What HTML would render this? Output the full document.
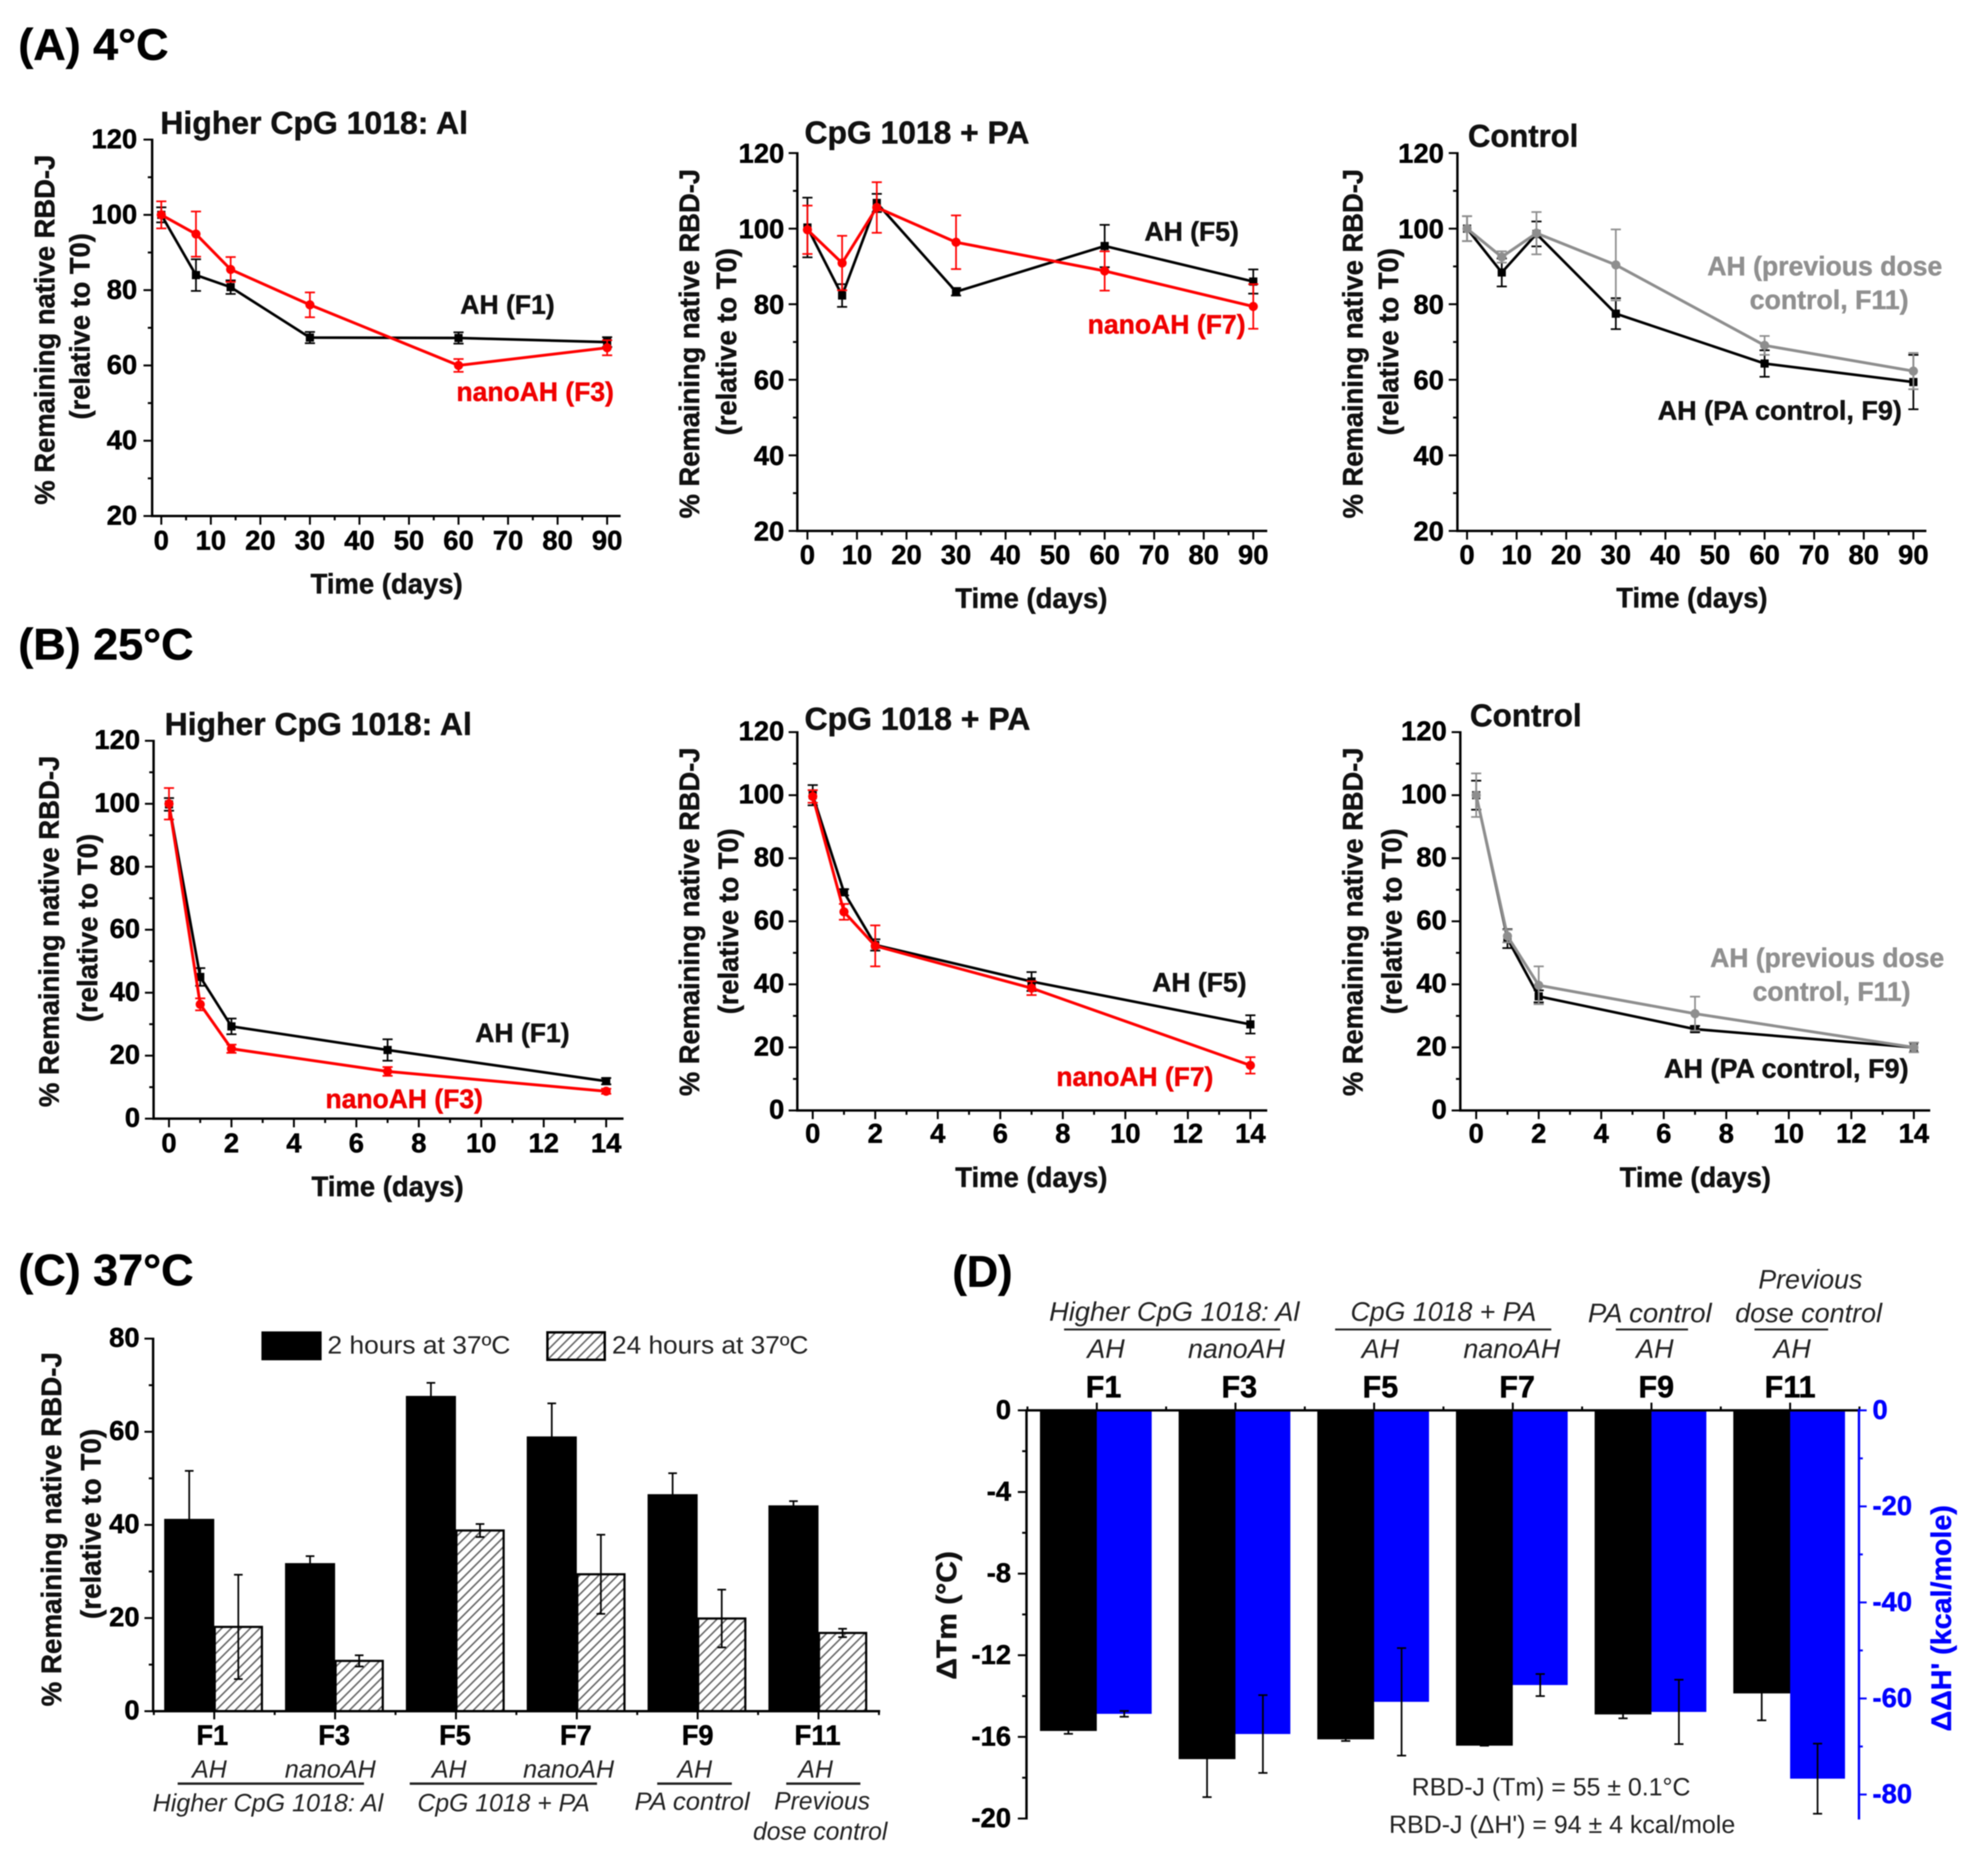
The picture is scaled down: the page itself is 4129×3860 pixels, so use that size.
<!DOCTYPE html>
<html lang="en">
<head>
<meta charset="utf-8">
<title>RBD-J stability charts</title>
<style>
html,body{margin:0;padding:0;background:#fff;}
svg{display:block;font-family:"Liberation Sans",Arial,sans-serif;filter:blur(1px);}
.head{font-size:92px;font-weight:700;fill:#000;}
.title{font-size:66px;font-weight:700;fill:#111;}
.axt{font-size:58px;font-weight:700;fill:#111;text-anchor:middle;}
.ser{font-size:56px;font-weight:700;}
.tick{font-size:57px;font-weight:700;fill:#000;}
.it{font-size:52px;font-style:italic;fill:#222;}
.ft{font-size:58px;font-weight:700;fill:#000;text-anchor:middle;}
#d .it{font-size:56px;}
#d .ft{font-size:64px;}
.reg{font-size:52px;fill:#222;}
</style>
</head>
<body>
<svg id="figure" xmlns="http://www.w3.org/2000/svg" width="4129" height="3860" viewBox="0 0 4129 3860">
<defs>
<pattern id="hatch" patternUnits="userSpaceOnUse" width="14" height="14" patternTransform="rotate(45)">
<rect width="14" height="14" fill="#ffffff"/>
<rect width="3.2" height="14" fill="#666666"/>
</pattern>
</defs>
<rect width="4129" height="3860" fill="#ffffff"/>

<text class="head" x="38" y="124" textLength="312">(A) 4°C</text>
<text class="head" x="38" y="1370" textLength="364">(B) 25°C</text>
<text class="head" x="38" y="2670" textLength="364">(C) 37°C</text>
<text class="head" x="1978" y="2673" textLength="125">(D)</text>

<g id="a1">
<text class="title" x="333" y="278" textLength="639">Higher CpG 1018: Al</text>
<text class="axt" transform="translate(113,685) rotate(-90)" textLength="727">% Remaining native RBD-J</text>
<text class="axt" transform="translate(186,678) rotate(-90)" textLength="387">(relative to T0)</text>
<text class="axt" x="803" y="1233" textLength="316">Time (days)</text>
<text class="ser" x="956" y="652" fill="#111" textLength="196">AH (F1)</text>
<text class="ser" x="948" y="833" fill="#f00000" textLength="327">nanoAH (F3)</text>
</g>

<g id="a2">
<text class="title" x="1671" y="298" textLength="467">CpG 1018 + PA</text>
<text class="axt" transform="translate(1452,714) rotate(-90)" textLength="726">% Remaining native RBD-J</text>
<text class="axt" transform="translate(1529,710) rotate(-90)" textLength="389">(relative to T0)</text>
<text class="axt" x="2142" y="1263" textLength="316">Time (days)</text>
<text class="ser" x="2377" y="500" fill="#111" textLength="196">AH (F5)</text>
<text class="ser" x="2259" y="693" fill="#f00000" textLength="328">nanoAH (F7)</text>
</g>

<g id="a3">
<text class="title" x="3049" y="305" textLength="229">Control</text>
<text class="axt" transform="translate(2830,714) rotate(-90)" textLength="726">% Remaining native RBD-J</text>
<text class="axt" transform="translate(2904,710) rotate(-90)" textLength="389">(relative to T0)</text>
<text class="axt" x="3514" y="1262" textLength="314">Time (days)</text>
<text class="ser" x="3546" y="572" fill="#909090" textLength="488">AH (previous dose</text>
<text class="ser" x="3634" y="642" fill="#909090" textLength="330">control, F11)</text>
<text class="ser" x="3443" y="872" fill="#111" textLength="507">AH (PA control, F9)</text>
</g>

<g id="b1">
<text class="title" x="342" y="1527" textLength="638">Higher CpG 1018: Al</text>
<text class="axt" transform="translate(122,1935) rotate(-90)" textLength="730">% Remaining native RBD-J</text>
<text class="axt" transform="translate(202,1928) rotate(-90)" textLength="391">(relative to T0)</text>
<text class="axt" x="805" y="2485" textLength="316">Time (days)</text>
<text class="ser" x="987" y="2165" fill="#111" textLength="196">AH (F1)</text>
<text class="ser" x="676" y="2302" fill="#f00000" textLength="327">nanoAH (F3)</text>
</g>

<g id="b2">
<text class="title" x="1671" y="1516" textLength="469">CpG 1018 + PA</text>
<text class="axt" transform="translate(1452,1915) rotate(-90)" textLength="724">% Remaining native RBD-J</text>
<text class="axt" transform="translate(1533,1914) rotate(-90)" textLength="386">(relative to T0)</text>
<text class="axt" x="2142" y="2466" textLength="316">Time (days)</text>
<text class="ser" x="2393" y="2060" fill="#111" textLength="196">AH (F5)</text>
<text class="ser" x="2194" y="2256" fill="#f00000" textLength="326">nanoAH (F7)</text>
</g>

<g id="b3">
<text class="title" x="3053" y="1509" textLength="232">Control</text>
<text class="axt" transform="translate(2830,1915) rotate(-90)" textLength="724">% Remaining native RBD-J</text>
<text class="axt" transform="translate(2911,1914) rotate(-90)" textLength="386">(relative to T0)</text>
<text class="axt" x="3521" y="2466" textLength="314">Time (days)</text>
<text class="ser" x="3552" y="2009" fill="#909090" textLength="486">AH (previous dose</text>
<text class="ser" x="3640" y="2079" fill="#909090" textLength="328">control, F11)</text>
<text class="ser" x="3456" y="2239" fill="#111" textLength="508">AH (PA control, F9)</text>
</g>

<g id="c">
<text class="axt" transform="translate(127,3177) rotate(-90)" textLength="736">% Remaining native RBD-J</text>
<text class="axt" transform="translate(209,3166) rotate(-90)" textLength="395">(relative to T0)</text>
<rect x="543" y="2766" width="125" height="60" fill="#000"/>
<text class="reg" x="680" y="2812" textLength="380">2 hours at 37ºC</text>
<rect x="1137" y="2768" width="119" height="57" fill="url(#hatch)" stroke="#000" stroke-width="5"/>
<text class="reg" x="1271" y="2812" textLength="408">24 hours at 37ºC</text>

<text class="ft" x="441" y="3625" textLength="66">F1</text>
<text class="ft" x="694" y="3625" textLength="66">F3</text>
<text class="ft" x="945" y="3625" textLength="66">F5</text>
<text class="ft" x="1196" y="3625" textLength="66">F7</text>
<text class="ft" x="1449" y="3625" textLength="66">F9</text>
<text class="ft" x="1698" y="3625" textLength="96">F11</text>
<g text-anchor="middle">
<text class="it" x="435" y="3693">AH</text>
<text class="it" x="686" y="3693" textLength="189">nanoAH</text>
<text class="it" x="933" y="3693">AH</text>
<text class="it" x="1181" y="3693" textLength="189">nanoAH</text>
<text class="it" x="1443" y="3693">AH</text>
<text class="it" x="1694" y="3693">AH</text>
</g>
<rect x="369" y="3703" width="387" height="5" fill="#222"/>
<rect x="851" y="3703" width="389" height="5" fill="#222"/>
<rect x="1365" y="3703" width="155" height="5" fill="#222"/>
<rect x="1633" y="3703" width="154" height="5" fill="#222"/>
<text class="it" x="317" y="3763" textLength="479">Higher CpG 1018: Al</text>
<text class="it" x="867" y="3763" textLength="358">CpG 1018 + PA</text>
<text class="it" x="1318" y="3760" textLength="239">PA control</text>
<text class="it" x="1608" y="3759" textLength="199">Previous</text>
<text class="it" x="1564" y="3822" textLength="279">dose control</text>
</g>

<g id="d">
<text class="it" x="3652" y="2677" textLength="216">Previous</text>
<text class="it" x="3604" y="2747" textLength="305">dose control</text>
<text class="it" x="2179" y="2744" textLength="520">Higher CpG 1018: Al</text>
<text class="it" x="2805" y="2744" textLength="386">CpG 1018 + PA</text>
<text class="it" x="3298" y="2747" textLength="257">PA control</text>
<rect x="2210" y="2760" width="449" height="4" fill="#222"/>
<rect x="2773" y="2760" width="449" height="4" fill="#222"/>
<rect x="3356" y="2760" width="150" height="4" fill="#222"/>
<rect x="3644" y="2760" width="153" height="4" fill="#222"/>
<g text-anchor="middle">
<text class="it" x="2297" y="2821">AH</text>
<text class="it" x="2568" y="2821" textLength="201">nanoAH</text>
<text class="it" x="2867" y="2821">AH</text>
<text class="it" x="3140" y="2821" textLength="201">nanoAH</text>
<text class="it" x="3437" y="2821">AH</text>
<text class="it" x="3722" y="2821">AH</text>
</g>
<text class="ft" x="2292" y="2903" textLength="74">F1</text>
<text class="ft" x="2574" y="2903" textLength="74">F3</text>
<text class="ft" x="2867" y="2903" textLength="74">F5</text>
<text class="ft" x="3151" y="2903" textLength="74">F7</text>
<text class="ft" x="3440" y="2903" textLength="74">F9</text>
<text class="ft" x="3718" y="2903" textLength="106">F11</text>
<text class="axt" transform="translate(1986,3356) rotate(-90)" textLength="267">ΔTm (°C)</text>
<text class="axt" style="fill:#0000ff" transform="translate(4052,3362) rotate(-90)" textLength="470">ΔΔH' (kcal/mole)</text>
<text class="reg" x="2932" y="3730" textLength="579">RBD-J (Tm) = 55 ± 0.1°C</text>
<text class="reg" x="2885" y="3808" textLength="719">RBD-J (ΔH') = 94 ± 4 kcal/mole</text>
</g>

<script>
// ---------- Panel A (4 °C) data ----------
const daysA = [0, 7, 14, 30, 60, 90];
const xTicksA = [0, 10, 20, 30, 40, 50, 60, 70, 80, 90];
const yTicksA = [20, 40, 60, 80, 100, 120];
const a1AhValues = [100, 84, 80.8, 67.4, 67.3, 66.2];
const a1AhErrors = [2, 4.2, 1.8, 1.5, 1.5, 1.3];
const a1NanoValues = [100, 94.9, 85.5, 76.1, 60, 64.7];
const a1NanoErrors = [3.6, 6, 3.3, 3.3, 1.7, 2];
const a2AhValues = [100.3, 82.3, 106.8, 83.3, 95.4, 86];
const a2AhErrors = [7.9, 3, 2.4, 1, 5.6, 3.2];
const a2NanoValues = [99.7, 90.9, 105.6, 96.4, 88.8, 79.4];
const a2NanoErrors = [6.4, 7.2, 6.7, 7.1, 5.2, 5.9];
const a3PaValues = [100, 88.4, 98.6, 77.5, 64.3, 59.4];
const a3PaErrors = [3.3, 3.7, 3.3, 4.1, 3.5, 7.2];
const a3PrevValues = [100, 92.5, 98.8, 90.4, 69.1, 62.3];
const a3PrevErrors = [3.3, 1.5, 5.6, 9.4, 2.5, 4.8];

// ---------- Panel B (25 °C) data ----------
const daysB = [0, 1, 2, 7, 14];
const xTicksB = [0, 2, 4, 6, 8, 10, 12, 14];
const yTicksB = [0, 20, 40, 60, 80, 100, 120];
const b1AhValues = [99.8, 45, 29.3, 21.8, 11.9];
const b1AhErrors = [2, 2.8, 2.5, 3.4, 1];
const b1NanoValues = [100, 36.3, 22.2, 15, 8.7];
const b1NanoErrors = [5, 1.9, 1.3, 1.4, 0.8];
const b2AhValues = [100, 69.2, 52.5, 40.9, 27.3];
const b2AhErrors = [3.2, 1, 1.8, 3, 2.9];
const b2NanoValues = [99.6, 63, 52.2, 38.8, 14.3];
const b2NanoErrors = [2, 2.5, 6.5, 2.2, 2.6];
const b3PaValues = [100, 54.5, 36.2, 25.8, 20];
const b3PaErrors = [4.6, 3, 1.9, 1, 1.5];
const b3PrevValues = [100, 55.3, 39.7, 30.7, 20];
const b3PrevErrors = [6.9, 2, 6, 5.4, 1.5];

// ---------- Panel C (37 °C) data ----------
const yTicksC = [0, 20, 40, 60, 80];
const c2hValues = [41.3, 31.8, 67.7, 59, 46.6, 44.2];
const c2hErrors = [10.3, 1.5, 2.8, 7.1, 4.5, 0.9];
const c24hValues = [18.1, 10.8, 38.8, 29.4, 19.9, 16.8];
const c24hErrors = [11.2, 1.2, 1.4, 8.5, 6.2, 0.9];

// ---------- Panel D data ----------
const yTicksDLeft = [0, -4, -8, -12, -16, -20];
const yTicksDRight = [0, -20, -40, -60, -80];
const dTmValues = [-15.71, -17.09, -16.12, -16.43, -14.9, -13.87];
const dTmErrors = [0.14, 1.86, 0.08, 0, 0.19, 1.32];
const dEnthalpyValues = [-63.2, -67.4, -60.7, -57.2, -62.8, -76.7];
const dEnthalpyErrors = [0.6, 8.1, 11.2, 2.3, 6.7, 7.3];

const NS = 'http://www.w3.org/2000/svg';
const BLACK = '#000000', RED = '#ff0000', GRAY = '#8e8e8e', BLUE = '#0000ff';

function add(parent, tag, name, attrs, text) {
  const el = document.createElementNS(NS, tag);
  
  
  for (const k in attrs) el.setAttribute(k, attrs[k]);
  if (text !== undefined) el.textContent = text;
  parent.appendChild(el);
  return el;
}
function linear(d0, d1, r0, r1) {
  return function (v) { return r0 + (v - d0) / (d1 - d0) * (r1 - r0); };
}
function line(parent, name, x1, y1, x2, y2, color, w) {
  return add(parent, 'line', name, { x1: x1, y1: y1, x2: x2, y2: y2, stroke: color, 'stroke-width': w });
}
function errorBar(parent, x, yLo, yHi, color, cap, w) {
  const g = add(parent, 'g', 'error-bar', {});
  line(g, 'error-stem', x, yLo, x, yHi, color, w);
  line(g, 'error-cap', x - cap / 2, yLo, x + cap / 2, yLo, color, w);
  line(g, 'error-cap', x - cap / 2, yHi, x + cap / 2, yHi, color, w);
}
function tickLabel(parent, name, x, y, anchor, text, color) {
  const t = add(parent, 'text', name, { x: x, y: y, 'text-anchor': anchor, class: 'tick' }, text);
  if (color) t.style.fill = color;
  return t;
}

function drawLinePanel(id, g, xTicks, xMinor, yTicks, yMinor, series) {
  const root = document.getElementById(id);
  const sx = linear(xTicks[0], xTicks[xTicks.length - 1], g.x0, g.x1);
  const sy = linear(yTicks[0], yTicks[yTicks.length - 1], g.yBottom, g.yTop);
  const axes = add(root, 'g', 'axes', {});
  line(axes, 'y-axis-line', g.axisX, g.yTop - 2, g.axisX, g.yBottom + 2.5, '#000', 5);
  line(axes, 'x-axis-line', g.axisX, g.yBottom, g.xEnd, g.yBottom, '#000', 5);
  for (let v = yTicks[0]; v <= yTicks[yTicks.length - 1]; v += yMinor) {
    const major = yTicks.indexOf(v) >= 0;
    line(axes, major ? 'y-tick' : 'y-minor-tick', g.axisX - (major ? 18 : 9), sy(v), g.axisX, sy(v), '#000', 4);
  }
  yTicks.forEach(function (v) {
    tickLabel(axes, 'y-tick-label', g.yLabelX, sy(v) + g.labelDy, 'end', String(v));
  });
  for (let v = xTicks[0]; v <= xTicks[xTicks.length - 1]; v += xMinor) {
    const major = xTicks.indexOf(v) >= 0;
    line(axes, major ? 'x-tick' : 'x-minor-tick', sx(v), g.yBottom, sx(v), g.yBottom + (major ? 18 : 9), '#000', 4);
  }
  xTicks.forEach(function (v) {
    tickLabel(axes, 'x-tick-label', sx(v), g.xLabelY, 'middle', String(v));
  });
  series.forEach(function (s) {
    const sg = add(root, 'g', s.name, {});
    s.x.forEach(function (d, i) {
      errorBar(sg, sx(d), sy(s.y[i] - s.err[i]), sy(s.y[i] + s.err[i]), s.color, 21, 3.5);
    });
    const pts = s.x.map(function (d, i) { return sx(d) + ',' + sy(s.y[i]); }).join(' ');
    add(sg, 'polyline', 'series-line', { points: pts, fill: 'none', stroke: s.color, 'stroke-width': s.color === BLACK ? 5.5 : 6, 'stroke-linejoin': 'round' });
    s.x.forEach(function (d, i) {
      if (s.marker === 'square') {
        add(sg, 'rect', 'data-point', { x: sx(d) - 8.5, y: sy(s.y[i]) - 8.5, width: 17, height: 17, fill: s.color });
      } else {
        add(sg, 'circle', 'data-point', { cx: sx(d), cy: sy(s.y[i]), r: 9.5, fill: s.color });
      }
    });
  });
}

drawLinePanel('a1', { axisX: 316, x0: 335, x1: 1261, xEnd: 1289, yTop: 290, yBottom: 1072, yLabelX: 285, xLabelY: 1142, labelDy: 18 },
  xTicksA, 5, yTicksA, 10, [
    { name: 'series-ah-f1', x: daysA, y: a1AhValues, err: a1AhErrors, color: BLACK, marker: 'square' },
    { name: 'series-nanoah-f3', x: daysA, y: a1NanoValues, err: a1NanoErrors, color: RED, marker: 'circle' }
  ]);
drawLinePanel('a2', { axisX: 1656, x0: 1677, x1: 2603, xEnd: 2632, yTop: 318, yBottom: 1103, yLabelX: 1629, xLabelY: 1172, labelDy: 20 },
  xTicksA, 5, yTicksA, 10, [
    { name: 'series-ah-f5', x: daysA, y: a2AhValues, err: a2AhErrors, color: BLACK, marker: 'square' },
    { name: 'series-nanoah-f7', x: daysA, y: a2NanoValues, err: a2NanoErrors, color: RED, marker: 'circle' }
  ]);
drawLinePanel('a3', { axisX: 3027, x0: 3047, x1: 3974, xEnd: 4001, yTop: 318, yBottom: 1103, yLabelX: 2999, xLabelY: 1172, labelDy: 20 },
  xTicksA, 5, yTicksA, 10, [
    { name: 'series-pa-control-f9', x: daysA, y: a3PaValues, err: a3PaErrors, color: BLACK, marker: 'square' },
    { name: 'series-previous-dose-f11', x: daysA, y: a3PrevValues, err: a3PrevErrors, color: GRAY, marker: 'circle' }
  ]);
drawLinePanel('b1', { axisX: 319, x0: 351, x1: 1259, xEnd: 1295, yTop: 1539, yBottom: 2324, yLabelX: 291, xLabelY: 2394, labelDy: 17 },
  xTicksB, 1, yTicksB, 10, [
    { name: 'series-ah-f1', x: daysB, y: b1AhValues, err: b1AhErrors, color: BLACK, marker: 'square' },
    { name: 'series-nanoah-f3', x: daysB, y: b1NanoValues, err: b1NanoErrors, color: RED, marker: 'circle' }
  ]);
drawLinePanel('b2', { axisX: 1656, x0: 1688, x1: 2597, xEnd: 2632, yTop: 1521, yBottom: 2307, yLabelX: 1629, xLabelY: 2374, labelDy: 17 },
  xTicksB, 1, yTicksB, 10, [
    { name: 'series-ah-f5', x: daysB, y: b2AhValues, err: b2AhErrors, color: BLACK, marker: 'square' },
    { name: 'series-nanoah-f7', x: daysB, y: b2NanoValues, err: b2NanoErrors, color: RED, marker: 'circle' }
  ]);
drawLinePanel('b3', { axisX: 3033, x0: 3066, x1: 3975, xEnd: 4009, yTop: 1521, yBottom: 2307, yLabelX: 3005, xLabelY: 2374, labelDy: 17 },
  xTicksB, 1, yTicksB, 10, [
    { name: 'series-pa-control-f9', x: daysB, y: b3PaValues, err: b3PaErrors, color: BLACK, marker: 'square' },
    { name: 'series-previous-dose-f11', x: daysB, y: b3PrevValues, err: b3PrevErrors, color: GRAY, marker: 'circle' }
  ]);

// Panel C bars
(function () {
  const root = document.getElementById('c');
  const sy = linear(0, 80, 3555, 2781);
  const center = function (i) { return 445 + 251 * i; };
  const axes = add(root, 'g', 'axes', {});
  c2hValues.forEach(function (v, i) {
    add(axes, 'rect', 'bar-2h', { x: center(i) - 104, y: sy(v), width: 104, height: sy(0) - sy(v), fill: '#000' });
    errorBar(axes, center(i) - 52, sy(v - c2hErrors[i]), sy(v + c2hErrors[i]), '#000', 18, 3.5);
  });
  c24hValues.forEach(function (v, i) {
    add(axes, 'rect', 'bar-24h', { x: center(i) + 1, y: sy(v), width: 98, height: sy(0) - sy(v), fill: 'url(#hatch)', stroke: '#000', 'stroke-width': 4.5 });
    errorBar(axes, center(i) + 50, sy(v - c24hErrors[i]), sy(v + c24hErrors[i]), '#000', 18, 3.5);
  });
  line(axes, 'y-axis-line', 318, 2779, 318, 3557, '#000', 5);
  line(axes, 'x-axis-line', 316, 3555, 1828, 3555, '#000', 5);
  for (let v = 0; v <= 80; v += 10) {
    const major = yTicksC.indexOf(v) >= 0;
    line(axes, major ? 'y-tick' : 'y-minor-tick', 318 - (major ? 18 : 9), sy(v), 318, sy(v), '#000', 4);
  }
  yTicksC.forEach(function (v) {
    tickLabel(axes, 'y-tick-label', 290, sy(v) + 17, 'end', String(v));
  });
  for (let k = 0; k <= 12; k++) {
    const major = k % 2 === 1;
    const tx = 319.5 + 125.5 * k;
    line(axes, major ? 'x-tick' : 'x-minor-tick', tx, 3555, tx, 3555 + (major ? 17 : 8), '#000', 4);
  }
})();

// Panel D dual-axis bars
(function () {
  const root = document.getElementById('d');
  const syL = linear(0, -20, 2930, 3778);
  const syR = linear(0, -85, 2930, 3778);
  const center = function (i) { return 2278 + 288 * i; };
  const axes = add(root, 'g', 'axes', {});
  dTmValues.forEach(function (v, i) {
    add(axes, 'rect', 'bar-delta-tm', { x: center(i) - 118, y: syL(0), width: 118, height: syL(v) - syL(0), fill: '#000' });
    errorBar(axes, center(i) - 59, syL(v - dTmErrors[i]), syL(v + dTmErrors[i]), '#000', 19, 3.5);
  });
  dEnthalpyValues.forEach(function (v, i) {
    add(axes, 'rect', 'bar-delta-enthalpy', { x: center(i), y: syR(0), width: 114, height: syR(v) - syR(0), fill: BLUE });
    errorBar(axes, center(i) + 57, syR(v - dEnthalpyErrors[i]), syR(v + dEnthalpyErrors[i]), '#000', 19, 3.5);
  });
  line(axes, 'top-axis-line', 2130, 2930, 3861, 2930, '#000', 5);
  line(axes, 'left-axis-line', 2132, 2928, 2132, 3780, '#000', 5);
  for (let v = 0; v >= -20; v -= 2) {
    const major = yTicksDLeft.indexOf(v) >= 0;
    line(axes, major ? 'left-tick' : 'left-minor-tick', 2132 - (major ? 18 : 9), syL(v), 2132, syL(v), '#000', 4);
  }
  yTicksDLeft.forEach(function (v) {
    tickLabel(axes, 'left-tick-label', 2100, syL(v) + 18, 'end', String(v));
  });
  for (let k = 0; k <= 12; k++) {
    const major = k % 2 === 1;
    const tx = 2134 + 144 * k;
    line(axes, major ? 'top-tick' : 'top-minor-tick', tx, 2930, tx, 2930 - (major ? 16 : 8), '#000', 4);
  }
  line(axes, 'right-axis-line', 3861, 2927, 3861, 3780, BLUE, 5);
  for (let v = 0; v >= -80; v -= 10) {
    const major = yTicksDRight.indexOf(v) >= 0;
    line(axes, major ? 'right-tick' : 'right-minor-tick', 3861, syR(v), 3861 + (major ? 16 : 8), syR(v), BLUE, 4);
  }
  yTicksDRight.forEach(function (v) {
    tickLabel(axes, 'right-tick-label', 3889, syR(v) + 18, 'start', String(v), BLUE);
  });
})();

document.querySelectorAll('text[textLength]').forEach(function (t) {
  t.setAttribute('lengthAdjust', 'spacingAndGlyphs');
});
document.querySelectorAll('.head,.title,.axt,.ser,.tick,.ft').forEach(function (t) {
  t.style.stroke = getComputedStyle(t).fill;
  t.style.strokeWidth = '0.9px';
});
</script>
</svg>
</body>
</html>
